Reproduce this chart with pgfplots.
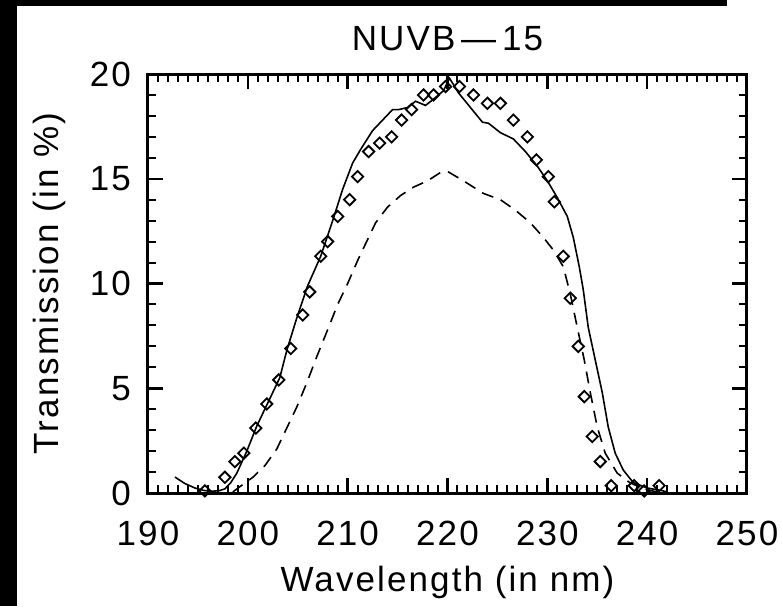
\documentclass[border=0pt]{standalone}
\usepackage{fontspec}
\setmainfont{Liberation Sans}[LetterSpace=6]
\usepackage{pgfplots}
\pgfplotsset{compat=1.18}
\newcommand{\bigf}{\fontsize{35}{42}\selectfont}
\begin{document}
\begin{tikzpicture}[x=1pt,y=1pt]
\useasboundingbox (0,0) rectangle (782,606);
\fill[white] (0,0) rectangle (782,606);
\fill[black] (0,0) rectangle (17,606);
\fill[black] (0,600) rectangle (727,606);
\begin{axis}[
  at={(148pt,113pt)}, anchor=south west,
  scale only axis, width=599pt, height=419pt,
  xmin=190, xmax=250, ymin=0, ymax=20,
  xtick={190,200,...,250}, ytick={0,5,...,20},
  minor x tick num=9, minor y tick num=4,
  tick align=inside,
  major tick length=15pt, minor tick length=8pt,
  every tick/.style={black, line width=2.5pt},
  minor tick style={line width=2pt},
  axis line style={line width=3pt},
  /pgf/number format/assume math mode=true,
  ticklabel style={font=\bigf},
  xticklabel style={anchor=base, inner sep=0pt, yshift=-52pt},
  yticklabel style={anchor=east, inner sep=0pt, xshift=-17pt},
  title={NUVB\,—\,15},
  title style={font=\bigf, at={(axis description cs:0.5,1.0406)}, anchor=base},
  xlabel={Wavelength (in nm)},
  xlabel style={font=\bigf, at={(axis description cs:0.5,-0.236)}, anchor=base},
  ylabel={Transmission (in \%)},
  ylabel style={font=\bigf, at={(axis description cs:-0.164,0.5)}, anchor=center, rotate=0},
  clip=false,
]
\addplot[black, line width=1.6pt] coordinates {
(192.7,0.76) (193.7,0.45) (194.7,0.24) (195.6,0.12) (196.4,0.08) (197.2,0.12)
(197.7,0.2) (198.3,0.5) (198.9,0.95) (199.9,2.0) (200.9,3.2) (202.0,4.3)
(203.2,5.5) (203.9,6.8) (204.9,8.35) (206.0,9.9) (207.3,11.3) (208.5,13.0)
(209.5,14.5) (210.5,15.75) (211.3,16.4) (212.5,17.3) (213.3,17.7) (214.5,18.3)
(215.1,18.3) (216.0,18.4) (216.8,18.7) (217.8,18.5) (218.6,18.8) (219.6,19.2)
(220.2,19.8) (221.1,19.1) (222.3,18.4) (223.5,17.7) (224.1,17.65) (225.3,17.2)
(226.6,16.9) (227.8,16.3) (229.0,15.6) (230.0,14.9) (231.0,14.1) (232.0,13.2)
(232.6,12.2) (233.2,10.8) (233.6,9.7) (234.1,7.9) (234.8,6.35) (235.5,4.8)
(236.1,3.15) (236.8,1.9) (237.6,1.1) (238.6,0.5) (240.0,0.24) (241.6,0.1) (242.0,0.05)
};
\addplot[black, line width=1.6pt, dash pattern=on 12pt off 8pt] coordinates {
(198.5,0.05) (199.2,0.3) (200.5,0.75) (201.7,1.3) (202.9,2.1) (203.9,3.1)
(204.9,4.1) (205.9,5.25) (206.9,6.5) (208.0,7.8) (209.0,9.0) (210.0,10.0)
(211.0,11.1) (212.0,12.1) (212.8,12.9) (214.0,13.65) (215.3,14.2) (216.6,14.6)
(218.0,14.9) (219.3,15.3) (220.0,15.35) (221.6,14.9) (223.6,14.3) (225.3,14.0)
(226.8,13.5) (228.3,12.9) (229.6,12.2) (230.6,11.6) (231.6,10.8) (232.3,9.5)
(233.0,7.9) (233.7,6.35) (234.3,4.8) (235.0,3.15) (235.8,1.9) (237.0,0.95)
(238.3,0.48) (240.0,0.15) (241.0,0.05)
};
\addplot[only marks, mark=square, mark size=4pt, mark options={black, line width=1.8pt, rotate=45, fill=none}] coordinates {
(195.7,0.1) (197.7,0.75) (198.7,1.5) (199.6,1.9) (200.8,3.1) (201.9,4.25)
(203.1,5.4) (204.3,6.9) (205.5,8.5) (206.2,9.6) (207.3,11.3) (208.0,12.0)
(209.0,13.2) (210.2,14.0) (211.0,15.1) (212.1,16.3) (213.2,16.7) (214.4,17.0)
(215.4,17.8) (216.4,18.3) (217.6,19.0) (218.6,19.0) (219.8,19.4) (221.2,19.4)
(222.6,19.0) (224.0,18.6) (225.3,18.6) (226.6,17.8) (228.0,17.0) (228.9,15.9)
(230.1,15.1) (230.7,13.9) (231.6,11.3) (232.3,9.3) (233.1,7.0) (233.7,4.6)
(234.5,2.7) (235.3,1.5) (236.4,0.35) (238.7,0.35) (239.7,0.1) (241.2,0.35)
};
\end{axis}
\end{tikzpicture}
\end{document}
